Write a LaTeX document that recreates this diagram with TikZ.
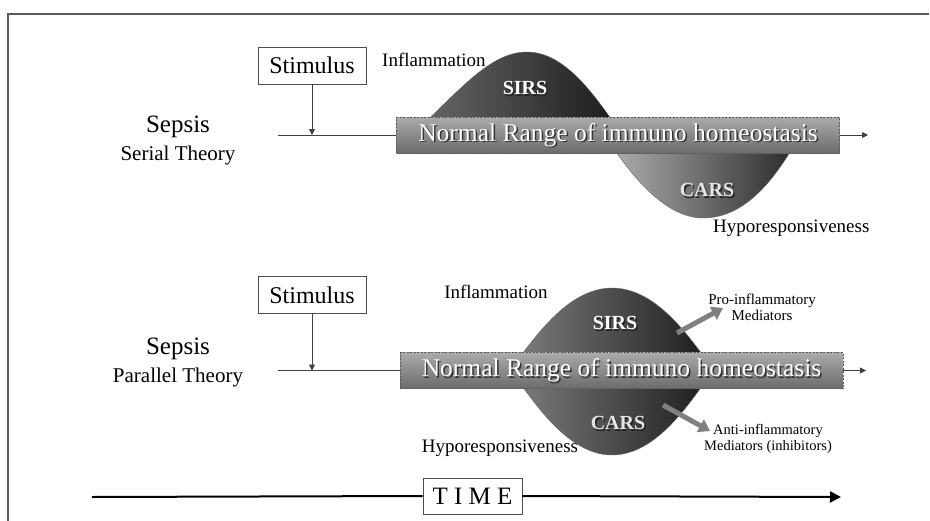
\documentclass[tikz,border=0pt]{standalone}
\usepackage{fontspec}
\setmainfont{Liberation Serif}
\usetikzlibrary{arrows.meta}
\begin{document}
\begin{tikzpicture}[x=1pt,y=-1pt,
  txt/.style={inner sep=0pt, font=\fontsize{#1}{#1}\selectfont},
  twoline/.style={inner sep=0pt, align=center, font=\fontsize{#1}{16}\selectfont},
  stimbox/.style={draw=black!70, line width=0.9pt, inner sep=0pt, minimum width=108pt, minimum height=37pt, font=\fontsize{24}{24}\selectfont},
  rangebox/.style={draw=black!65, line width=0.8pt, dash pattern=on 2pt off 1.5pt, top color=black!33, bottom color=black!58, inner sep=0pt, minimum width=443pt, minimum height=36pt},
  rangetxt/.style={inner sep=0pt, font=\fontsize{25.5}{25.5}\selectfont, text=#1},
  lobetxt/.style={inner sep=0pt, font=\bfseries\fontsize{20}{20}\selectfont, text=#1},
  thinline/.style={draw=black!75, line width=0.9pt},
  smallarrow/.style={draw=black!75, line width=0.9pt, -{Triangle[length=6pt,width=6pt]}},
  grayarrow/.style={draw=black!50, line width=5pt, -{Triangle[length=11pt,width=14pt]}},
  timeline/.style={draw=black, line width=2pt},
  lobe/.style={draw=black!60, line width=0.4pt}
]
\useasboundingbox (0,0) rectangle (930,520);
% frame
\draw[black!65, line width=1.6pt] (8,522) -- (8,14) -- (929,14);

% ================= Serial theory =================
\node[txt=25] (sep1) at (178,127) {Sepsis};
\node[txt=21] (ser1) at (178,155) {Serial Theory};
\node[stimbox] (stim1) at (312,65.5) {Stimulus};
\node[txt=19, anchor=west] (inf1) at (382,60) {Inflammation};
\node[txt=19, anchor=west] (hyp1) at (713,228) {Hyporesponsiveness};

% lobes
\path[lobe, left color=black!58, right color=black!90]
  (412,135) .. controls (460,90) and (490,52) .. (527,52)
  .. controls (565,52) and (595,95) .. (622,135) -- cycle;
\path[lobe, left color=black!30, right color=black!85]
  (605,135) .. controls (630,175) and (665,218) .. (703,218)
  .. controls (745,218) and (775,180) .. (800,135) -- cycle;

\node[rangebox] (rb1) at (618,135) {};
\node[rangetxt=black!80] (rb1s) at (619.5,136.5) {Normal Range of immuno homeostasis};
\node[rangetxt=white] (rb1t) at (618,135) {Normal Range of immuno homeostasis};
\node[lobetxt=black!85] (sirs1s) at (526.5,89.5) {SIRS};
\node[lobetxt=white] (sirs1) at (525,88) {SIRS};
\node[lobetxt=black!85] (cars1s) at (708.5,191.5) {CARS};
\node[lobetxt=black!10] (cars1) at (707,190) {CARS};

\coordinate (l1) at (278,135);
\coordinate (j1) at (312,135);
\coordinate (e1) at (868,135);
\draw[thinline] (l1) -- (rb1.west);
\draw[smallarrow] (stim1.south) -- (j1);
\draw[smallarrow] (rb1.east) -- (e1);

% ================= Parallel theory =================
\node[txt=25] (sep2) at (178,349) {Sepsis};
\node[txt=21] (par2) at (178,377) {Parallel Theory};
\node[stimbox] (stim2) at (312,295) {Stimulus};
\node[txt=19] (inf2) at (496,292) {Inflammation};
\node[txt=19] (hyp2) at (500,448) {Hyporesponsiveness};

\path[lobe, left color=black!50, right color=black!90]
  (510,370) .. controls (530,345) and (565,288) .. (612,288)
  .. controls (660,288) and (694,345) .. (714,370)
  .. controls (694,395) and (660,455) .. (612,455)
  .. controls (565,455) and (530,395) .. (510,370) -- cycle;

\node[rangebox] (rb2) at (621.5,370.5) {};
\node[rangetxt=black!80] (rb2s) at (623,372) {Normal Range of immuno homeostasis};
\node[rangetxt=white] (rb2t) at (621.5,370.5) {Normal Range of immuno homeostasis};
\node[lobetxt=black!85] (sirs2s) at (616.5,324.5) {SIRS};
\node[lobetxt=white] (sirs2) at (615,323) {SIRS};
\node[lobetxt=black!85] (cars2s) at (619.5,424.5) {CARS};
\node[lobetxt=black!10] (cars2) at (618,423) {CARS};

\coordinate (pa) at (677,333);
\coordinate (pb) at (723,308);
\coordinate (aa) at (663,405);
\coordinate (ab) at (710,431);
\draw[grayarrow] (pa) -- (pb);
\draw[grayarrow] (aa) -- (ab);
\node[twoline=15] (pro) at (762,307) {Pro-inflammatory\\Mediators};
\node[twoline=14.5] (anti) at (768,439) {Anti-inflammatory\\Mediators (inhibitors)};

\coordinate (l2) at (278,370.5);
\coordinate (j2) at (312,370.5);
\coordinate (e2) at (866,370.5);
\draw[thinline] (l2) -- (rb2.west);
\draw[smallarrow] (stim2.south) -- (j2);
\draw[smallarrow] (rb2.east) -- (e2);

% ================= Time axis =================
\node[draw=black!70, line width=0.9pt, inner sep=0pt, minimum width=99pt, minimum height=36pt, font=\fontsize{25}{25}\selectfont] (time) at (472.5,496) {T I M E};
\coordinate (t0) at (92,497);
\coordinate (t1) at (841,497);
\draw[timeline] (t0) -- (time.west);
\draw[timeline, -{Triangle[length=11pt,width=11pt]}] (time.east) -- (t1);
\end{tikzpicture}
\end{document}
